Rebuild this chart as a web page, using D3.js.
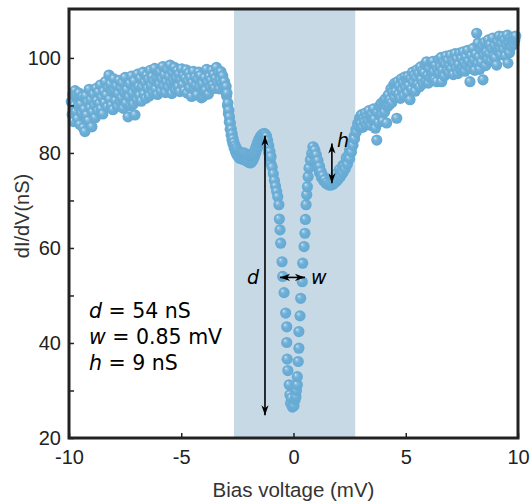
<!DOCTYPE html>
<html><head><meta charset="utf-8">
<script src="https://cdn.jsdelivr.net/npm/d3@7"></script>
<style>
html,body{margin:0;padding:0;background:#fff;}
svg{display:block;}
</style></head>
<body>
<svg id="chart" width="531" height="501"></svg>
<script>
// ---------- data (Bias voltage mV, dI/dV nS) ----------
const leftPlateau = [[-9.90,90.8],[-9.86,88.1],[-9.83,92.3],[-9.80,86.6],[-9.76,90.0],[-9.73,93.1],[-9.70,88.7],[-9.66,92.2],[-9.62,87.2],[-9.58,89.9],[-9.55,92.6],[-9.51,86.0],[-9.47,90.3],[-9.43,88.4],[-9.40,91.9],[-9.36,85.3],[-9.32,89.2],[-9.29,84.5],[-9.25,92.0],[-9.21,88.0],[-9.17,90.7],[-9.13,86.8],[-9.10,93.4],[-9.06,89.5],[-9.02,91.2],[-8.98,85.5],[-8.95,88.6],[-8.91,92.4],[-8.87,90.1],[-8.83,87.4],[-8.79,93.6],[-8.76,91.0],[-8.72,88.9],[-8.68,92.8],[-8.64,90.4],[-8.60,94.3],[-8.57,89.3],[-8.53,91.7],[-8.49,88.2],[-8.45,93.0],[-8.41,90.6],[-8.38,95.0],[-8.34,92.2],[-8.30,89.7],[-8.26,93.8],[-8.22,96.4],[-8.19,91.3],[-8.15,94.5],[-8.11,90.0],[-8.07,92.9],[-8.04,89.1],[-8.00,95.6],[-7.96,93.2],[-7.92,91.0],[-7.88,94.1],[-7.84,89.8],[-7.81,92.5],[-7.77,95.3],[-7.73,90.8],[-7.69,93.7],[-7.65,91.6],[-7.62,94.8],[-7.58,89.4],[-7.54,92.7],[-7.50,95.9],[-7.46,90.5],[-7.42,93.3],[-7.37,87.6],[-7.33,91.8],[-7.29,94.6],[-7.25,89.9],[-7.21,96.2],[-7.17,92.6],[-7.13,90.3],[-7.09,95.1],[-7.06,88.0],[-7.02,93.5],[-6.98,91.2],[-6.94,96.6],[-6.90,94.0],[-6.86,92.1],[-6.82,95.7],[-6.78,90.9],[-6.74,93.9],[-6.70,97.0],[-6.66,92.4],[-6.62,94.9],[-6.58,91.5],[-6.54,96.3],[-6.50,93.6],[-6.46,95.5],[-6.42,92.0],[-6.38,97.4],[-6.34,94.2],[-6.30,96.0],[-6.26,92.8],[-6.22,95.2],[-6.18,97.8],[-6.14,93.4],[-6.10,95.9],[-6.06,92.3],[-6.02,96.8],[-5.98,94.5],[-5.94,97.1],[-5.90,93.0],[-5.86,95.6],[-5.82,98.2],[-5.78,94.1],[-5.74,96.4],[-5.70,92.7],[-5.66,95.0],[-5.62,97.6],[-5.58,93.8],[-5.54,96.1],[-5.50,98.5],[-5.46,94.7],[-5.42,92.5],[-5.38,96.9],[-5.34,95.3],[-5.30,98.0],[-5.26,93.3],[-5.22,95.8],[-5.18,97.3],[-5.14,94.0],[-5.10,96.6],[-5.06,92.9],[-5.02,95.4],[-4.98,97.7],[-4.94,94.4],[-4.90,96.2],[-4.86,93.1],[-4.82,95.7],[-4.78,97.5],[-4.74,92.6],[-4.70,95.1],[-4.66,96.8],[-4.62,93.7],[-4.58,95.9],[-4.54,91.9],[-4.50,94.8],[-4.46,97.2],[-4.42,93.4],[-4.38,96.0],[-4.34,94.2],[-4.30,92.2],[-4.26,95.5],[-4.22,97.0],[-4.18,93.9],[-4.14,96.3],[-4.10,91.6],[-4.06,94.6],[-4.03,91.9],[-3.99,92.8],[-3.95,95.8],[-3.91,93.2],[-3.87,97.6],[-3.83,94.9],[-3.79,92.4],[-3.75,96.1],[-3.71,93.8],[-3.67,95.3],[-3.63,97.4],[-3.59,94.3],[-3.55,96.5],[-3.51,93.6],[-3.47,95.7],[-3.43,98.0],[-3.39,94.8],[-3.35,96.9],[-3.31,93.5],[-3.27,95.4],[-3.23,97.1],[-3.19,94.6],[-3.15,96.2],[-3.11,93.9],[-3.07,95.0],[-3.03,92.9]];

const leftShoulderA = [[-3.00,94.0],[-2.96,92.6],[-2.92,90.5],[-2.88,89.0],[-2.85,87.6],[-2.81,86.3],[-2.77,85.0],[-2.73,84.0],[-2.69,83.0],[-2.65,82.2],[-2.60,81.5],[-2.55,81.0],[-2.50,80.6],[-2.44,80.3],[-2.38,80.1],[-2.32,80.0],[-2.26,79.9],[-2.20,80.0],[-2.14,79.8],[-2.08,79.7],[-2.02,79.6],[-1.96,79.5],[-1.90,79.5],[-1.84,79.7],[-1.78,80.0],[-1.72,80.6],[-1.66,81.4],[-1.60,82.2],[-1.54,82.9],[-1.48,83.4],[-1.42,83.8],[-1.36,84.0],[-1.30,84.1],[-1.25,83.9],[-1.20,83.5],[-1.15,82.6],[-1.10,81.5],[-1.05,80.3],[-1.00,79.2]];

const leftShoulderB = [[-2.98,92.0],[-2.94,90.0],[-2.90,88.3],[-2.86,86.5],[-2.82,85.0],[-2.78,83.8],[-2.74,82.8],[-2.70,82.0],[-2.64,81.0],[-2.58,80.2],[-2.52,79.6],[-2.46,79.2],[-2.40,78.9],[-2.34,78.8],[-2.28,78.7],[-2.22,78.6],[-2.16,78.5],[-2.10,78.4],[-2.04,78.2],[-1.98,78.0],[-1.92,77.9],[-1.86,78.1],[-1.80,78.5],[-1.74,79.2],[-1.68,80.0],[-1.62,80.9],[-1.56,81.7],[-1.50,82.4],[-1.44,82.9],[-1.38,83.2],[-1.32,83.3],[-1.26,83.0],[-1.21,82.3],[-1.16,81.3],[-1.11,80.1],[-1.06,78.9],[-1.01,77.8],[-0.95,77.0],[-0.90,75.6],[-0.85,74.2],[-0.80,73.0],[-0.75,71.9],[-0.70,70.8]];

const dipLeft = [[-0.65,69.1],[-0.63,66.1],[-0.60,63.8],[-0.57,61.0],[-0.51,57.1],[-0.48,54.0],[-0.42,50.6],[-0.35,46.3],[-0.30,43.4],[-0.30,40.1],[-0.28,36.6],[-0.25,34.2],[-0.19,31.2],[-0.16,29.1],[-0.13,27.3],[-0.10,28.4],[-0.05,26.5],[0.02,26.8]];

const dipRight = [[0.07,28.0],[0.11,28.7],[0.13,30.0],[0.17,31.2],[0.17,32.9],[0.21,36.1],[0.24,38.9],[0.24,42.4],[0.29,45.7],[0.32,49.4],[0.39,52.9],[0.41,56.8],[0.47,60.3],[0.51,63.1],[0.53,66.0],[0.56,69.1],[0.59,71.2],[0.62,72.9],[0.65,75.0],[0.69,76.8],[0.75,78.5],[0.81,79.9],[0.88,81.2]];

const hRegionA = [[0.87,81.3],[0.95,80.6],[1.02,79.6],[1.09,78.4],[1.16,77.2],[1.23,76.1],[1.31,75.2],[1.40,74.4],[1.50,73.8],[1.60,73.5],[1.70,73.4],[1.80,73.6],[1.90,74.0],[2.00,74.5],[2.10,75.1],[2.20,75.8],[2.30,76.6],[2.40,77.6],[2.50,78.8],[2.58,80.2],[2.65,81.6],[2.72,83.0],[2.80,84.4],[2.88,85.6],[2.96,86.4],[3.05,86.8]];

const hRegionB = [[0.92,79.6],[1.00,78.2],[1.08,77.0],[1.16,75.8],[1.25,74.8],[1.35,74.1],[1.45,73.6],[1.55,73.3],[1.65,73.2],[1.75,73.4],[1.85,73.9],[1.90,75.6],[1.95,74.6],[2.05,75.4],[2.05,76.5],[2.15,76.3],[2.20,77.4],[2.25,77.2],[2.35,78.3],[2.35,79.0],[2.45,79.5],[2.50,80.6],[2.55,80.9],[2.62,82.2],[2.70,83.5],[2.78,84.9],[2.86,86.2],[2.94,87.3],[3.02,88.0]];

const rightPlateau = [[3.00,86.2],[3.04,88.0],[3.08,85.4],[3.12,87.3],[3.16,86.5],[3.20,88.4],[3.24,85.9],[3.28,87.6],[3.32,86.8],[3.36,88.9],[3.41,87.7],[3.45,85.8],[3.49,88.2],[3.53,86.9],[3.57,89.3],[3.61,87.1],[3.65,85.2],[3.71,82.7],[3.74,88.5],[3.78,86.4],[3.82,89.8],[3.86,87.9],[3.90,90.4],[3.94,88.1],[3.98,86.7],[4.02,90.9],[4.06,88.6],[4.10,91.4],[4.15,86.3],[4.18,89.7],[4.22,92.2],[4.26,90.1],[4.30,91.2],[4.34,93.5],[4.38,90.6],[4.42,92.8],[4.46,94.3],[4.50,91.7],[4.52,94.7],[4.56,92.9],[4.60,87.3],[4.64,95.0],[4.68,92.4],[4.72,94.1],[4.76,91.5],[4.80,95.6],[4.84,93.2],[4.88,94.8],[4.92,92.0],[4.96,96.0],[5.00,93.7],[5.04,95.3],[5.08,92.6],[5.10,96.1],[5.14,94.2],[5.19,91.2],[5.22,95.7],[5.26,93.4],[5.30,97.0],[5.34,94.9],[5.38,96.4],[5.42,93.0],[5.46,95.8],[5.50,97.5],[5.54,94.4],[5.58,96.7],[5.62,93.9],[5.66,98.1],[5.70,95.5],[5.74,97.2],[5.78,94.6],[5.82,96.9],[5.86,98.6],[5.90,95.2],[5.93,99.2],[5.97,96.3],[6.01,94.7],[6.05,97.8],[6.09,95.9],[6.13,98.9],[6.17,96.6],[6.21,99.3],[6.25,97.1],[6.29,95.4],[6.33,98.4],[6.38,95.0],[6.42,97.6],[6.46,99.6],[6.50,96.8],[6.54,98.2],[6.58,100.1],[6.60,95.0],[6.64,97.4],[6.68,99.0],[6.72,96.2],[6.76,98.7],[6.80,100.4],[6.84,97.3],[6.88,99.5],[6.92,96.9],[6.96,98.3],[7.00,100.6],[7.04,97.7],[7.08,99.2],[7.12,96.5],[7.16,98.9],[7.20,100.9],[7.24,97.9],[7.28,99.8],[7.32,96.7],[7.36,98.6],[7.40,101.0],[7.44,97.5],[7.48,99.9],[7.52,98.1],[7.56,101.3],[7.60,99.0],[7.64,97.2],[7.68,100.2],[7.72,98.4],[7.76,101.6],[7.80,99.3],[7.86,95.0],[7.88,97.8],[7.92,100.5],[7.96,98.7],[8.00,102.0],[8.04,99.6],[8.08,97.4],[8.12,100.8],[8.16,105.2],[8.20,98.9],[8.22,103.1],[8.26,100.2],[8.30,97.6],[8.34,101.7],[8.38,99.1],[8.42,102.5],[8.44,95.4],[8.48,100.6],[8.52,103.3],[8.56,98.4],[8.60,101.2],[8.64,99.7],[8.68,103.8],[8.72,100.9],[8.76,102.8],[8.80,99.4],[8.84,101.9],[8.88,104.2],[8.92,100.3],[8.96,102.6],[9.00,100.0],[9.05,98.5],[9.08,103.5],[9.12,101.4],[9.16,104.6],[9.20,102.0],[9.24,100.7],[9.28,103.0],[9.33,104.5],[9.36,101.8],[9.40,103.9],[9.44,100.4],[9.48,102.7],[9.52,104.8],[9.55,98.9],[9.58,103.3],[9.62,101.1],[9.66,104.1],[9.70,102.4],[9.74,103.6],[9.78,104.4],[9.82,102.9],[9.86,103.8],[9.90,104.6]];

const shadeRange = [-2.65, 2.75];
const xTicks = [-10, -5, 0, 5, 10];
const yTicks = [20, 40, 60, 80, 100];
const yMinorTicks = [30, 50, 70, 90];
const xDomain = [-10, 10];
const yDomain = [20, 110.3];

// annotations (data coordinates)
const dArrow = {x: -1.27, y1: 83.6, y2: 24.8};
const wArrow = {y: 53.8, x1: -0.60, x2: 0.51};
const hArrow = {x: 1.71, y1: 82.0, y2: 73.6};
const statLines = [["d", " = 54 nS"], ["w", " = 0.85 mV"], ["h", " = 9 nS"]];

// ---------- drawing ----------
const svg = d3.select("#chart");
const M = {left: 69, right: 518, top: 9, bottom: 438};
const x = d3.scaleLinear().domain(xDomain).range([M.left, M.right]);
const y = d3.scaleLinear().domain(yDomain).range([M.bottom, M.top]);

const defs = svg.append("defs");
const grad = defs.append("radialGradient").attr("id", "ball")
  .attr("cx", "50%").attr("cy", "50%").attr("r", "55%").attr("fx", "32%").attr("fy", "30%");
grad.append("stop").attr("offset", "0%").attr("stop-color", "#dcecf6");
grad.append("stop").attr("offset", "18%").attr("stop-color", "#94c4e2");
grad.append("stop").attr("offset", "45%").attr("stop-color", "#6caed6");
grad.append("stop").attr("offset", "100%").attr("stop-color", "#64a9d3");

svg.append("rect")
  .attr("x", x(shadeRange[0])).attr("y", M.top)
  .attr("width", x(shadeRange[1]) - x(shadeRange[0]))
  .attr("height", M.bottom - M.top)
  .attr("fill", "#c8d9e6");

const allPts = [].concat(leftPlateau, leftShoulderB, leftShoulderA, dipLeft, dipRight, hRegionB, hRegionA, rightPlateau);
svg.append("g").selectAll("circle").data(allPts).join("circle")
  .attr("cx", d => x(d[0])).attr("cy", d => y(d[1])).attr("r", 5.6)
  .attr("fill", "url(#ball)");

// arrows
function arrow(x1, y1, x2, y2) {
  const g = svg.append("g");
  g.append("line").attr("x1", x1).attr("y1", y1).attr("x2", x2).attr("y2", y2)
    .attr("stroke", "#000").attr("stroke-width", 1.6);
  const head = (tx, ty, fx, fy) => {
    const a = Math.atan2(ty - fy, tx - fx), L = 10, W = 3.6;
    const bx = tx - L * Math.cos(a), by = ty - L * Math.sin(a);
    const px = -Math.sin(a) * W, py = Math.cos(a) * W;
    const bx2 = tx - 0.7 * L * Math.cos(a), by2 = ty - 0.7 * L * Math.sin(a);
    g.append("path").attr("d", `M${tx},${ty}L${bx + px},${by + py}L${bx2},${by2}L${bx - px},${by - py}Z`).attr("fill", "#000");
  };
  head(x1, y1, x2, y2);
  head(x2, y2, x1, y1);
}
arrow(x(dArrow.x), y(dArrow.y1), x(dArrow.x), y(dArrow.y2));
arrow(x(wArrow.x1), y(wArrow.y), x(wArrow.x2), y(wArrow.y));
arrow(x(hArrow.x), y(hArrow.y1), x(hArrow.x), y(hArrow.y2));

const labFont = "'DejaVu Sans', Verdana, sans-serif";
svg.append("text").attr("x", x(dArrow.x) - 18).attr("y", y(wArrow.y) + 6.5)
  .attr("font-family", labFont).attr("font-size", 19).attr("font-style", "italic").text("d");
svg.append("text").attr("x", x(wArrow.x2) + 6).attr("y", y(wArrow.y) + 6.5)
  .attr("font-family", labFont).attr("font-size", 19).attr("font-style", "italic").text("w");
svg.append("text").attr("x", x(hArrow.x) + 5).attr("y", y(hArrow.y1) + 4)
  .attr("font-family", labFont).attr("font-size", 19).attr("font-style", "italic").text("h");

const stat = svg.append("g").attr("font-family", labFont).attr("font-size", 20.5).attr("fill", "#000");
statLines.forEach((s, i) => {
  const t = stat.append("text").attr("x", 89).attr("y", 318 + i * 26).attr("xml:space", "preserve");
  t.append("tspan").attr("font-style", "italic").text(s[0]);
  t.append("tspan").text(s[1]);
});

// axes
const axisColor = "#222";
const tickFont = "'Liberation Sans', Arial, Helvetica, sans-serif";
const fmt = d => String(d);
const frame = svg.append("g");
frame.append("rect").attr("x", M.left).attr("y", M.top)
  .attr("width", M.right - M.left).attr("height", M.bottom - M.top)
  .attr("fill", "none").attr("stroke", axisColor).attr("stroke-width", 3);

const yAxis = d3.axisLeft(y).tickValues(yTicks).tickSize(-5).tickPadding(8).tickFormat(fmt);
const gy = svg.append("g").attr("transform", `translate(${M.left},0)`).call(yAxis);
gy.select(".domain").remove();
gy.selectAll(".tick line").attr("stroke", axisColor).attr("stroke-width", 1.5);
gy.selectAll("text").attr("font-family", tickFont).attr("font-size", 20).attr("fill", "#222");

const yMinor = d3.axisLeft(y).tickValues(yMinorTicks).tickSize(-5).tickFormat("");
const gym = svg.append("g").attr("transform", `translate(${M.left},0)`).call(yMinor);
gym.select(".domain").remove();
gym.selectAll(".tick line").attr("stroke", axisColor).attr("stroke-width", 1.5);

const xAxis = d3.axisBottom(x).tickValues(xTicks).tickSize(-5).tickPadding(12).tickFormat(fmt);
const gx = svg.append("g").attr("transform", `translate(0,${M.bottom})`).call(xAxis);
gx.select(".domain").remove();
gx.selectAll(".tick line").attr("stroke", axisColor).attr("stroke-width", 1.5);
gx.selectAll("text").attr("font-family", tickFont).attr("font-size", 20).attr("fill", "#222");

svg.append("text").attr("x", (M.left + M.right) / 2).attr("y", 497)
  .attr("text-anchor", "middle").attr("font-family", tickFont).attr("font-size", 20.5).attr("fill", "#333")
  .text("Bias voltage (mV)");
svg.append("text").attr("transform", `translate(29,216) rotate(-90)`)
  .attr("text-anchor", "middle").attr("font-family", tickFont).attr("font-size", 20).attr("fill", "#333")
  .text("dI/dV(nS)");
</script>
</body></html>
